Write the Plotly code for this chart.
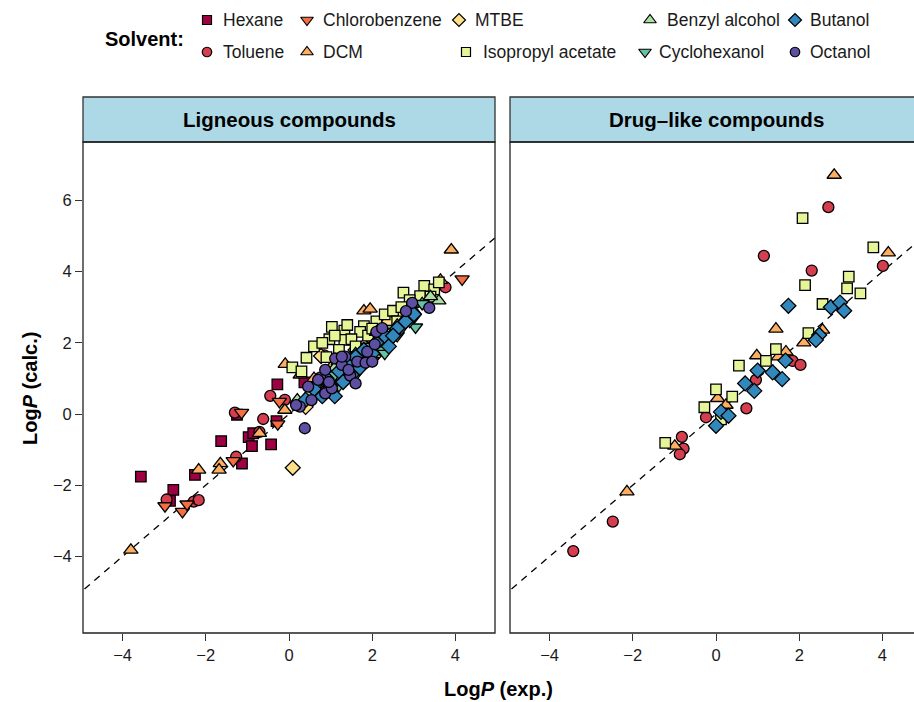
import plotly.graph_objects as go

W, H = 914, 702

solvents = ["Hexane", "Toluene", "Chlorobenzene", "DCM", "MTBE",
            "Isopropyl acetate", "Benzyl alcohol", "Cyclohexanol", "Butanol", "Octanol"]
colors = ["#9E0142", "#D53E4F", "#F46D43", "#FDAE61", "#FEE08B",
          "#E6F598", "#ABDDA4", "#66C2A5", "#3288BD", "#5E4FA2"]
symbols = ["square", "circle", "triangle-down", "triangle-up", "diamond",
           "square", "triangle-up", "triangle-down", "diamond", "circle"]
panel_titles = ["Ligneous compounds", "Drug\u2013like compounds"]
x_ticks = [-4, -2, 0, 2, 4]
y_ticks = [-4, -2, 0, 2, 4, 6]

# ---------------- Ligneous compounds (exp, calc) ----------------
lig_hexane_exp = [-3.56, -2.78, -2.86, -2.26, -1.63, -1.13, -0.97, -0.86, -0.89, -0.43, -0.28, 0.37, -1.25, -0.30]
lig_hexane_calc = [-1.76, -2.13, -2.44, -1.71, -0.76, -1.39, -0.65, -0.54, -0.90, -0.85, 0.83, 0.89, -0.02, -0.20]

lig_toluene_exp = [-2.94, -2.29, -2.17, -1.27, -0.71, -0.62, -0.45, -1.30, 3.76, 0.85, 2.00, 1.30, -0.10]
lig_toluene_calc = [-2.40, -2.46, -2.42, -1.20, -0.50, -0.14, 0.51, 0.04, 3.56, 1.65, 2.10, 1.00, 0.40]

lig_chloro_exp = [-2.98, -2.56, -2.45, -1.34, -0.27, -0.23, -1.14, 4.16, 0.90, 1.60, 2.50, 1.20, 2.00, 0.50]
lig_chloro_calc = [-2.58, -2.74, -2.53, -1.31, -0.28, 0.35, 0.04, 3.79, 0.60, 1.30, 2.60, 1.00, 1.90, 0.30]

lig_dcm_exp = [-3.80, -2.17, -1.65, -1.68, -0.71, -0.09, 0.27, -0.10, 1.80, 1.95, 3.64, 3.90, 1.20, 2.60, 3.30, 0.60, 2.20, 1.00]
lig_dcm_calc = [-3.82, -1.57, -1.39, -1.57, -0.54, 1.40, 1.10, 0.11, 2.90, 2.95, 3.76, 4.61, 1.50, 2.70, 3.40, 1.00, 2.40, 1.30]

lig_mtbe_exp = [0.09, 0.50, 0.70, 0.90, 1.00, 1.20, 1.30, 1.50, 1.70, 1.80, 2.00, 2.20, 2.40, 2.50, 2.70, 2.90, 3.10, 3.30, 0.77, 3.30, 0.40, 1.60, 2.10]
lig_mtbe_calc = [-1.51, 0.50, 0.80, 1.10, 0.70, 1.40, 1.00, 1.60, 1.40, 1.90, 2.20, 2.00, 2.60, 2.30, 2.80, 3.00, 3.20, 3.30, 1.63, 3.10, 0.20, 1.80, 1.70]

lig_ipac_exp = [1.03, 1.33, 1.80, 0.97, 1.33, 1.71, 0.42, 0.08, 3.25, 3.49, 2.75, 3.15, 0.60, 0.80, 1.10, 1.50,
                1.90, 2.10, 2.30, 2.50, 2.60, 2.90, 1.20, 0.90, 1.60, 0.30, 2.00, 2.70, 3.40, 3.60, 1.40]
lig_ipac_calc = [2.45, 2.34, 2.47, 2.10, 2.08, 2.31, 1.58, 1.31, 3.60, 3.50, 3.41, 3.31, 1.90, 2.00, 2.20, 2.10,
                 2.20, 2.60, 2.80, 2.90, 2.60, 3.20, 1.80, 1.60, 1.90, 1.20, 2.40, 3.00, 3.30, 3.70, 2.50]

lig_benzyl_exp = [3.60, 0.20, 0.50, 0.70, 0.90, 1.10, 1.30, 1.50, 1.60, 1.80, 2.00, 2.20, 2.40, 2.60, 2.80, 3.00, 3.20, 1.90, 2.10, 0.80, 3.40]
lig_benzyl_calc = [3.18, 0.40, 0.60, 0.90, 0.80, 1.30, 1.50, 1.30, 1.70, 1.60, 1.90, 2.10, 2.30, 2.50, 2.70, 2.90, 3.10, 1.50, 2.30, 0.60, 3.30]

lig_cyclo_exp = [3.01, 3.04, 0.80, 1.00, 1.20, 1.40, 1.60, 1.80, 2.00, 2.20, 2.40, 2.60, 2.70, 2.90, 1.90, 2.30, 1.50, 1.10, 2.50, 3.20]
lig_cyclo_calc = [2.72, 2.44, 0.50, 0.70, 0.80, 1.00, 1.10, 1.40, 1.50, 1.80, 2.00, 2.20, 2.40, 2.60, 1.90, 1.70, 1.40, 1.10, 2.40, 3.10]

lig_butanol_exp = [0.40, 0.60, 0.80, 0.90, 1.00, 1.20, 1.30, 1.40, 1.50, 1.60, 1.70, 1.80, 2.00, 2.10, 2.30, 2.40, 2.60, 2.80, 3.00, 1.10, 2.50]
lig_butanol_calc = [0.40, 0.70, 0.50, 1.00, 0.80, 1.20, 0.90, 1.40, 1.10, 1.60, 1.30, 1.80, 1.70, 2.00, 2.20, 1.90, 2.40, 2.60, 2.80, 0.50, 2.20]

lig_octanol_exp = [0.26, 0.75, 0.54, 0.87, 1.11, 1.35, 1.27, 1.47, 1.64, 1.84, 2.00, 2.10, 2.24, 1.88, 2.06, 1.60, 1.03,
                   0.70, 1.43, 0.87, 1.27, 0.38, 0.17, 0.46, 0.96, 3.37, 2.96, 2.81]
lig_octanol_calc = [0.21, 1.02, 0.39, 0.58, 1.56, 1.61, 1.38, 1.08, 1.47, 1.44, 1.47, 2.31, 2.41, 1.75, 1.96, 0.86, 0.72,
                    0.96, 1.24, 1.24, 1.61, -0.40, 0.25, 0.77, 0.90, 2.98, 3.12, 2.89]

# ---------------- Drug-like compounds (exp, calc) ----------------
drug_toluene_exp = [2.70, 4.01, 1.15, 2.30, 1.74, 1.84, 2.03, 0.96, 0.73, -0.24, -0.82, -0.78, -0.87, -2.48, -3.43]
drug_toluene_calc = [5.81, 4.16, 4.44, 4.03, 1.52, 1.49, 1.38, 0.96, 0.16, -0.09, -0.64, -0.97, -1.13, -3.02, -3.85]

drug_dcm_exp = [2.84, 4.14, 1.44, 2.56, 2.11, 0.98, 1.68, 1.50, 0.04, 0.24, -0.99, -2.14]
drug_dcm_calc = [6.71, 4.53, 2.39, 2.36, 2.00, 1.64, 1.75, 1.61, 0.44, 0.25, -0.90, -2.18]

drug_ipac_exp = [2.08, 3.78, 3.19, 3.15, 3.47, 2.14, 2.56, 2.22, 1.44, 0.55, 1.20, 0.00, 0.39, 0.12, -0.28, -1.22]
drug_ipac_calc = [5.50, 4.68, 3.86, 3.53, 3.39, 3.62, 3.09, 2.27, 1.82, 1.36, 1.49, 0.69, 0.49, -0.15, 0.19, -0.81]

drug_butanol_exp = [1.74, 2.76, 2.98, 3.08, 2.48, 2.40, 1.67, 1.00, 1.36, 1.59, 0.70, 0.92, 0.12, 0.30, 0.00]
drug_butanol_calc = [3.04, 3.00, 3.13, 2.90, 2.22, 2.08, 1.50, 1.22, 1.17, 0.98, 0.86, 0.65, 0.06, -0.05, -0.33]

lig_data = {
    "Hexane": (lig_hexane_exp, lig_hexane_calc),
    "Toluene": (lig_toluene_exp, lig_toluene_calc),
    "Chlorobenzene": (lig_chloro_exp, lig_chloro_calc),
    "DCM": (lig_dcm_exp, lig_dcm_calc),
    "MTBE": (lig_mtbe_exp, lig_mtbe_calc),
    "Isopropyl acetate": (lig_ipac_exp, lig_ipac_calc),
    "Benzyl alcohol": (lig_benzyl_exp, lig_benzyl_calc),
    "Cyclohexanol": (lig_cyclo_exp, lig_cyclo_calc),
    "Butanol": (lig_butanol_exp, lig_butanol_calc),
    "Octanol": (lig_octanol_exp, lig_octanol_calc),
}
drug_data = {
    "Toluene": (drug_toluene_exp, drug_toluene_calc),
    "DCM": (drug_dcm_exp, drug_dcm_calc),
    "Isopropyl acetate": (drug_ipac_exp, drug_ipac_calc),
    "Butanol": (drug_butanol_exp, drug_butanol_calc),
}

# ---------------- layout geometry (pixels) ----------------
def px_x(p):
    return p / W

def px_y(p):
    return 1 - p / H

PANEL_TOP, PANEL_BOTTOM = 142, 633
STRIP_TOP = 97
LEFT_X0, LEFT_X1 = 83, 495
RIGHT_X0, RIGHT_X1 = 510, 914
XR_LEFT = [-4.95, 4.95]
scale = (LEFT_X1 - LEFT_X0) / (XR_LEFT[1] - XR_LEFT[0])
XR_RIGHT = [-4.95, -4.95 + (RIGHT_X1 - RIGHT_X0) / scale]
YR = [-6.15, 7.64]
LEG_H = 75

FONT = "Liberation Sans, Arial, Helvetica, sans-serif"

fig = go.Figure()

msize = {"square": 10.5, "circle": 11, "triangle-up": 12.5, "triangle-down": 12.5, "diamond": 11.5}

def add_points(data, xa, ya):
    for s, c, sym in zip(solvents, colors, symbols):
        if s not in data:
            continue
        xs, ys = data[s]
        fig.add_trace(go.Scatter(
            x=xs, y=ys, mode="markers", xaxis=xa, yaxis=ya, showlegend=False,
            marker=dict(symbol=sym, size=msize[sym], color=c,
                        line=dict(color="black", width=1.3)),
            hoverinfo="skip"))

# identity dashed lines (drawn below points)
for xa, ya in (("x", "y"), ("x2", "y2")):
    fig.add_trace(go.Scatter(x=[-8, 8], y=[-8, 8], mode="lines", xaxis=xa, yaxis=ya,
                             line=dict(color="black", width=1.3, dash="7px,6px"),
                             showlegend=False, hoverinfo="skip"))

add_points(lig_data, "x", "y")
add_points(drug_data, "x2", "y2")

# ---------------- legend (own helper axis in pixel units) ----------------
leg_marker_x = [207, 207, 307, 307, 459, 466, 650, 645, 795, 795]
leg_text_x = [221, 221, 321, 321, 473, 481, 665, 657, 808, 808]
leg_y = [20, 52, 20, 52, 20, 52, 20, 52, 20, 52]
for i, (s, c, sym) in enumerate(zip(solvents, colors, symbols)):
    fig.add_trace(go.Scatter(
        x=[leg_marker_x[i]], y=[leg_y[i]], mode="markers", xaxis="x3", yaxis="y3",
        marker=dict(symbol=sym, size=msize[sym] - 1.5, color=c,
                    line=dict(color="black", width=1.2)),
        showlegend=False, hoverinfo="skip", cliponaxis=False))
    fig.add_annotation(x=leg_text_x[i], y=leg_y[i], xref="x3", yref="y3", text=s,
                       showarrow=False, xanchor="left", yanchor="middle",
                       font=dict(family=FONT, size=17.5, color="#1a1a1a"))
fig.add_annotation(x=186, y=39, xref="x3", yref="y3", text="<b>Solvent:</b>",
                   showarrow=False, xanchor="right", yanchor="middle",
                   font=dict(family=FONT, size=20, color="black"))

# ---------------- strips and panel borders ----------------
for (x0, x1), title in zip(((LEFT_X0, LEFT_X1), (RIGHT_X0, RIGHT_X1 + 20)), panel_titles):
    fig.add_shape(type="rect", xref="paper", yref="paper",
                  x0=px_x(x0), x1=px_x(x1), y0=px_y(PANEL_TOP), y1=px_y(STRIP_TOP),
                  fillcolor="#ADD8E6", line=dict(color="#333333", width=1.3), layer="above")
    fig.add_shape(type="rect", xref="paper", yref="paper",
                  x0=px_x(x0), x1=px_x(x1), y0=px_y(PANEL_BOTTOM), y1=px_y(PANEL_TOP),
                  fillcolor="rgba(0,0,0,0)", line=dict(color="#222222", width=1.3), layer="above")

ann_common = dict(xref="paper", yref="paper", showarrow=False, xanchor="center", yanchor="middle")
fig.add_annotation(x=px_x((LEFT_X0 + LEFT_X1) / 2), y=px_y((STRIP_TOP + PANEL_TOP) / 2),
                   text="<b>" + panel_titles[0] + "</b>",
                   font=dict(family=FONT, size=20.5, color="black"), **ann_common)
fig.add_annotation(x=px_x((RIGHT_X0 + RIGHT_X0 + 412) / 2), y=px_y((STRIP_TOP + PANEL_TOP) / 2),
                   text="<b>" + panel_titles[1] + "</b>",
                   font=dict(family=FONT, size=20.5, color="black"), **ann_common)

# axis titles
fig.add_annotation(x=px_x(498), y=px_y(689), text="<b>Log<i>P</i> (exp.)</b>",
                   font=dict(family=FONT, size=20, color="black"), **ann_common)
fig.add_annotation(x=px_x(30), y=px_y(388), text="<b>Log<i>P</i> (calc.)</b>", textangle=-90,
                   font=dict(family=FONT, size=20, color="black"), **ann_common)

tickfont = dict(family=FONT, size=16.5, color="#1a1a1a")
xcommon = dict(tickvals=x_ticks, ticks="outside", ticklen=7, tickwidth=1.2, tickcolor="#333333",
               showgrid=False, zeroline=False, showline=False, tickfont=tickfont)

fig.update_layout(
    width=W, height=H, margin=dict(l=0, r=0, t=0, b=0),
    paper_bgcolor="white", plot_bgcolor="rgba(0,0,0,0)", showlegend=False,
    xaxis=dict(domain=[px_x(LEFT_X0), px_x(LEFT_X1)], range=XR_LEFT, anchor="y", **xcommon),
    yaxis=dict(domain=[px_y(PANEL_BOTTOM), px_y(PANEL_TOP)], range=YR, anchor="x",
               tickvals=y_ticks, ticks="outside", ticklen=7, tickwidth=1.2, tickcolor="#333333",
               showgrid=False, zeroline=False, showline=False, tickfont=tickfont),
    xaxis2=dict(domain=[px_x(RIGHT_X0), px_x(RIGHT_X1)], range=XR_RIGHT, anchor="y2", **xcommon),
    yaxis2=dict(domain=[px_y(PANEL_BOTTOM), px_y(PANEL_TOP)], range=YR, anchor="x2",
                showticklabels=False, ticks="", showgrid=False, zeroline=False, showline=False),
    xaxis3=dict(domain=[0, 1], range=[0, W], visible=False, anchor="y3"),
    yaxis3=dict(domain=[px_y(LEG_H), 1], range=[LEG_H, 0], visible=False, anchor="x3"),
)

fig.write_html("out.html")
